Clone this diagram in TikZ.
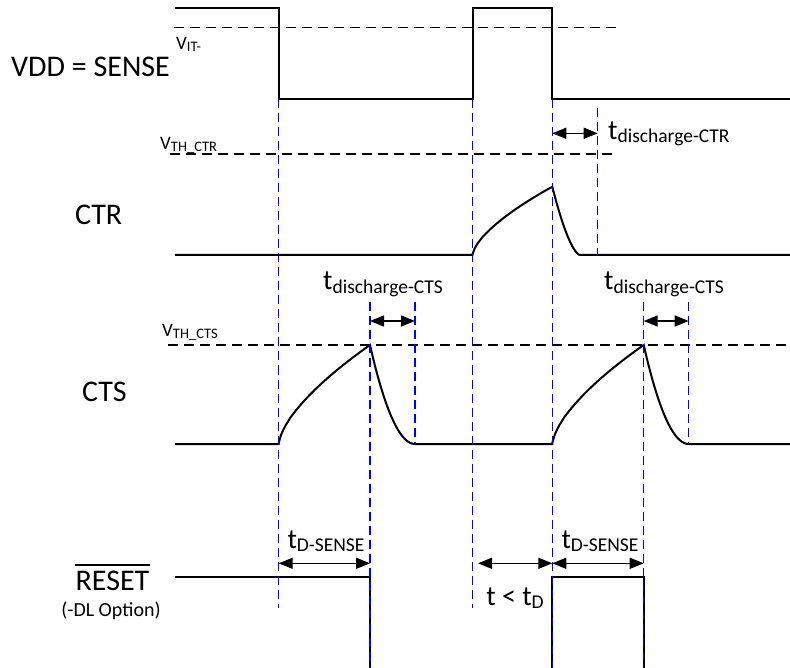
\documentclass[tikz,border=0pt]{standalone}
\usepackage{fontspec}
\setmainfont{Carlito}
\usetikzlibrary{arrows.meta}

\newcommand{\tlab}[2]{\fontsize{28}{28}\selectfont #1\raisebox{-3.5pt}{\fontsize{19.5}{19.5}\selectfont #2}}
\newcommand{\vlab}[2]{\fontsize{19}{19}\selectfont #1\raisebox{-2pt}{\fontsize{14.5}{14.5}\selectfont #2}}

\begin{document}
\begin{tikzpicture}[x=1pt,y=-1pt,
    wave/.style={line width=2pt},
    thr/.style={line width=1.4pt,dash pattern=on 10pt off 6pt},
    tick/.style={blue,line width=1.4pt,dash pattern=on 9pt off 5pt},
    span/.style={{Triangle[length=14pt,width=11pt]}-{Triangle[length=14pt,width=11pt]},line width=1.4pt},
    lab/.style={inner sep=0pt,anchor=base west},
    big/.style={font=\fontsize{30}{30}\selectfont}]
    \useasboundingbox (0,0) rectangle (790,668);

    \node [lab,big] (vdd) at (11,76.7) {VDD = SENSE};
    \node [lab] (vit) at (176,50) {\vlab{V}{IT-}};
    \node [lab] (vthctr) at (160,150) {\vlab{V}{TH\_CTR}};
    \node [lab,big] (ctr) at (75,225) {CTR};
    \node [lab] (vthcts) at (162,336.7) {\vlab{V}{TH\_CTS}};
    \node [lab,big] (cts) at (82,401) {CTS};
    \node [inner sep=0pt,anchor=base,big] (rst) at (112.5,590.5) {RESET};
    \draw [line width=1.5pt] ([yshift=6pt]rst.north west) -- ([yshift=6pt]rst.north east);
    \node [inner sep=0pt,anchor=base,font=\fontsize{20}{20}\selectfont] (dl) at (111,616.5) {(-DL Option)};

    \draw [thr] (174,27.7) -- (620,27.7);
    \draw [thr] (170,154) -- (617,154);
    \draw [thr] (168,345) -- (790,345);

    \draw [wave] (175,8) -- (278.7,8) -- (278.7,99.5) -- (472.5,99.5) -- (472.5,8) -- (552.3,8) -- (552.3,99.5) -- (790,99.5);
    \draw [wave] (175,255) -- (472.5,255)
        -- plot[domain=0.002:1,samples=40] ({472.5+79.8*\x},{255-68.3*\x^0.65})
        -- plot[domain=0:0.995,samples=30] ({552.3+27.7*\x},{255-68.3*(1-\x)^1.6})
        -- (790,255);
    \draw [wave] (175,444) -- (278.7,444)
        -- plot[domain=0.002:1,samples=40] ({278.7+91.3*\x},{444-99*\x^0.65})
        -- plot[domain=0:1,samples=30] ({370+45*\x},{444-99*(1-\x)*(1-\x)})
        -- (552.3,444)
        -- plot[domain=0.002:1,samples=40] ({552.3+91.4*\x},{444-99*\x^0.65})
        -- plot[domain=0:1,samples=30] ({643.7+45*\x},{444-99*(1-\x)*(1-\x)})
        -- (790,444);
    \draw [wave] (175,577) -- (370,577) -- (370,670) -- (552.3,670) -- (552.3,577) -- (643.7,577) -- (643.7,670) -- (790,670);

    \draw [tick] (278.7,99.5) -- (278.7,608);
    \draw [tick] (370,302) -- (370,668);
    \draw [tick] (415,302) -- (415,444);
    \draw [tick] (472.5,99.5) -- (472.5,608);
    \draw [tick] (552.3,99.5) -- (552.3,668);
    \draw [tick] (597.7,108) -- (597.7,255);
    \draw [tick] (643.7,302) -- (643.7,668);
    \draw [tick] (688.7,302) -- (688.7,444);

    \coordinate (dctrA) at (552.3,133.3);
    \coordinate (dctrB) at (597.7,133.3);
    \coordinate (dctsA) at (370,321);
    \coordinate (dctsB) at (415,321);
    \coordinate (dctsC) at (643.7,321);
    \coordinate (dctsD) at (688.7,321);
    \coordinate (dsA) at (278.7,563.3);
    \coordinate (dsB) at (370,563.3);
    \coordinate (dsC) at (552.3,563.3);
    \coordinate (dsD) at (643.7,563.3);
    \coordinate (tdA) at (478,563.3);
    \draw [span] (dctrA) -- (dctrB);
    \draw [span] (dctsA) -- (dctsB);
    \draw [span] (dctsC) -- (dctsD);
    \draw [span] (dsA) -- (dsB);
    \draw [span] (dsC) -- (dsD);
    \draw [span] (tdA) -- (dsC);

    \node [lab] (tdctr) at (608,139.3) {\tlab{t}{discharge-CTR}};
    \node [inner sep=0pt,anchor=base] (tdcts1) at (383,290) {\tlab{t}{discharge-CTS}};
    \node [inner sep=0pt,anchor=base] (tdcts2) at (664,290) {\tlab{t}{discharge-CTS}};
    \node [inner sep=0pt,anchor=base] (tds1) at (326,548) {\tlab{t}{D-SENSE}};
    \node [inner sep=0pt,anchor=base] (tds2) at (600,548) {\tlab{t}{D-SENSE}};
    \node [inner sep=0pt,anchor=base] (tlt) at (515,605) {\tlab{t < t}{D}};
\end{tikzpicture}
\end{document}
